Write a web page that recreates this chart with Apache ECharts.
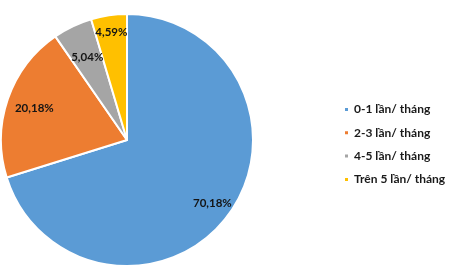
<!DOCTYPE html>
<html><head><meta charset="utf-8">
<script src="https://cdn.jsdelivr.net/npm/echarts@6/dist/echarts.min.js"></script>
<style>html,body{margin:0;padding:0;background:#fff}#c{width:453px;height:271px}</style>
</head><body><div id="c"></div>
<script>
const categories = ['0-1 lần/ tháng', '2-3 lần/ tháng', '4-5 lần/ tháng', 'Trên 5 lần/ tháng'];
const values = [70.18, 20.18, 5.04, 4.59];
const colors = ['#5B9BD5', '#ED7D31', '#A5A5A5', '#FFC000'];

const CX = 127, CY = 140, R = 126;
const labelRadius = [106, 98, 92, 109];

const data = categories.map((n, i) => ({ name: n, value: values[i], itemStyle: { color: colors[i] } }));
const fmt = p => p.value.toFixed(2).replace('.', ',') + '%';
const chart = echarts.init(document.getElementById('c'));
chart.setOption({
  animation: false,
  legend: {
    orient: 'vertical', left: 338, top: 98.5,
    itemWidth: 5, itemHeight: 5, itemGap: 11.3, icon: 'rect',
    textStyle: { fontFamily: 'Lato', fontWeight: 'bold', fontSize: 12, color: '#1a1a1a' },
    data: categories
  },
  series: [{
    type: 'pie', center: [CX, CY], radius: [0, R], startAngle: 90, clockwise: true,
    avoidLabelOverlap: false,
    itemStyle: { borderColor: '#fff', borderWidth: 2 },
    label: { show: true, position: 'inside', formatter: fmt, fontFamily: 'Lato', fontWeight: 'bold', fontSize: 11.5, color: '#141414', width: 1, overflow: 'none', align: 'center' },
    labelLine: { show: false },
    labelLayout: function (p) {
      const r = p.labelRect;
      const x = r.x + r.width / 2 - CX, y = r.y + r.height / 2 - CY;
      const len = Math.sqrt(x * x + y * y) || 1;
      const k = labelRadius[p.dataIndex] / len - 1;
      return { dx: x * k, dy: y * k };
    },
    data: data
  }]
});
</script></body></html>
